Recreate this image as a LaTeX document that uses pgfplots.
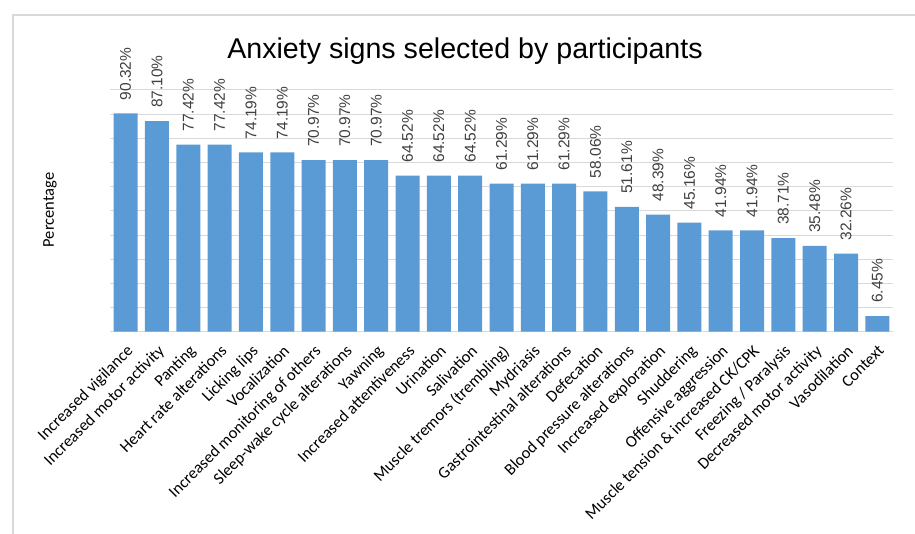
\documentclass[border=0pt]{standalone}
\usepackage{pgfplots}
\pgfplotsset{compat=1.18}
\usepackage{fontspec}
\setmainfont{Carlito}
\newfontfamily\arial{Liberation Sans}
\definecolor{barblue}{HTML}{5B9BD5}
\definecolor{gridgray}{HTML}{D9D9D9}
\definecolor{framegray}{HTML}{D9D9D9}
\definecolor{labgray}{HTML}{404040}
\begin{document}
\begin{tikzpicture}[x=1pt,y=1pt]
\useasboundingbox (0,0) rectangle (915,534);
\draw[framegray, line width=1.5pt] (13,0) -- (13,519) -- (915,519);
\begin{axis}[
  at={(110pt,202.3pt)}, anchor=south west,
  scale only axis, width=783pt, height=241.7pt,
  xmin=-0.5, xmax=24.5, ymin=0, ymax=100,
  ybar, bar width=24pt,
  clip=false,
  axis line style={draw=none},
  ytick={0,10,...,100}, yticklabels={},
  ymajorgrids, major grid style={draw=gridgray, line width=1pt},
  major tick length=0pt,
  xtick={0,...,24},
  xticklabels={Increased vigilance, Increased motor activity, Panting, Heart rate alterations, Licking lips, Vocalization, Increased monitoring of others, Sleep-wake cycle alterations, Yawning, Increased attentiveness, Urination, Salivation, Muscle tremors (trembling), Mydriasis, Gastrointestinal alterations, Defecation, Blood pressure alterations, Increased exploration, Shuddering, Offensive aggression, Muscle tension \& increased CK/CPK, Freezing / Paralysis, Decreased motor activity, Vasodilation, Context},
  xticklabel style={rotate=45, anchor=north east, inner sep=0pt, font=\fontsize{16.5}{18}\selectfont},
  xticklabel shift=12pt,
  nodes near coords={\pgfmathprintnumber[fixed,fixed zerofill,precision=2,assume math mode=true]{\pgfplotspointmeta}\%},
  every node near coord/.append style={font=\arial\fontsize{15.5}{17}\selectfont, rotate=90, anchor=west, inner xsep=13pt, inner ysep=0pt, text=labgray},
]
\addplot[fill=barblue, draw=none] coordinates {
(0,90.32) (1,87.10) (2,77.42) (3,77.42) (4,74.19) (5,74.19) (6,70.97) (7,70.97) (8,70.97)
(9,64.52) (10,64.52) (11,64.52) (12,61.29) (13,61.29) (14,61.29) (15,58.06) (16,51.61)
(17,48.39) (18,45.16) (19,41.94) (20,41.94) (21,38.71) (22,35.48) (23,32.26) (24,6.45)
};
\end{axis}
\node[font=\arial\fontsize{28.6}{32}\selectfont, anchor=base] at (465,475.7) {Anxiety signs selected by participants};
\node[rotate=90, font=\fontsize{16.5}{18}\selectfont] at (50,324) {Percentage};
\end{tikzpicture}
\end{document}
